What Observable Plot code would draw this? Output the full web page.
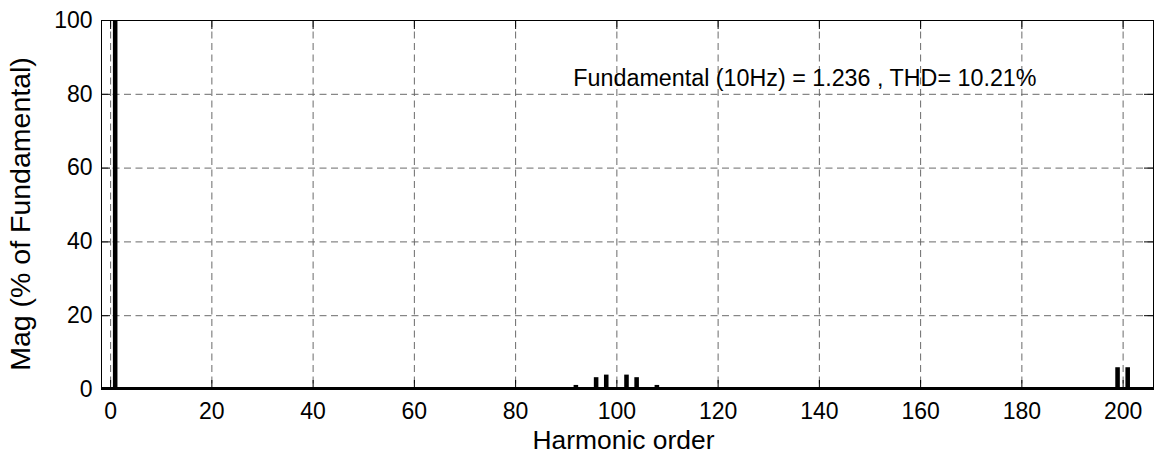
<!DOCTYPE html>
<html>
<head>
<meta charset="utf-8">
<script src="https://cdn.jsdelivr.net/npm/d3@7"></script>
<script src="https://cdn.jsdelivr.net/npm/@observablehq/plot@0.6"></script>
<style>
  html, body { margin: 0; padding: 0; background: #fff; }
  #chart svg { display: block; }
</style>
</head>
<body>
<div id="chart"></div>
<script>
// Harmonic orders and magnitudes (% of fundamental)
const harmonics = [1, 92, 96, 98, 102, 104, 108, 199, 201];
const magnitudes = [100, 1.1, 3.2, 3.9, 3.9, 3.2, 1.1, 5.9, 5.9];
const xTicks = [0, 20, 40, 60, 80, 100, 120, 140, 160, 180, 200];
const yTicks = [0, 20, 40, 60, 80, 100];
const xLabel = "Harmonic order";
const yLabel = "Mag (% of Fundamental)";
const annotation = ["Fundamental (10Hz) = 1.236 , THD= 10.21%"];
const annotationPos = {x: 91.4, y: 82.3};

const bars = harmonics.map((h, i) => ({h, mag: magnitudes[i]}));
const halfWidth = 0.45;
const font = "'Liberation Sans', Arial, Helvetica, sans-serif";
const W = 1160, H = 457;
const mTop = 20, mBottom = 68, mLeft = 101, mRight = 7;
const innerH = H - mTop - mBottom;
const innerW = W - mLeft - mRight;
const tickLen = 9;
const grid = {stroke: "#6a6a6a", strokeWidth: 1, strokeDasharray: "7,4.5"};

const chart = Plot.plot({
  width: W,
  height: H,
  marginTop: mTop,
  marginBottom: mBottom,
  marginLeft: mLeft,
  marginRight: mRight,
  style: {fontFamily: font, fontSize: "23px", color: "#000", background: "#fff"},
  x: {domain: [-1.8, 206], ticks: xTicks, tickSize: 0, tickPadding: 13, label: null, tickFormat: d => String(d)},
  y: {domain: [0, 100], ticks: yTicks, tickSize: 0, tickPadding: 9, label: null, tickFormat: d => String(d)},
  marks: [
    Plot.ruleX(xTicks, {x: d => d, ...grid}),
    Plot.ruleY(yTicks, {y: d => d, ...grid}),
    Plot.tickX(xTicks, {x: d => d, stroke: "#000", insetTop: innerH - tickLen}),
    Plot.tickX(xTicks, {x: d => d, stroke: "#000", insetBottom: innerH - tickLen}),
    Plot.tickY(yTicks, {y: d => d, stroke: "#000", insetRight: innerW - tickLen}),
    Plot.tickY(yTicks, {y: d => d, stroke: "#000", insetLeft: innerW - tickLen}),
    Plot.rectY(bars, {x1: d => d.h - halfWidth, x2: d => d.h + halfWidth, y1: 0, y2: "mag", fill: "#000"}),
    Plot.ruleY([0], {stroke: "#000", strokeWidth: 3.2, dy: -1}),
    Plot.frame({stroke: "#000", strokeWidth: 1}),
    Plot.text(annotation, {x: () => annotationPos.x, y: () => annotationPos.y, text: d => d, textAnchor: "start", lineAnchor: "bottom", fontSize: 23.3, fill: "#000"}),
    Plot.text([xLabel], {frameAnchor: "bottom", text: d => d, textAnchor: "middle", lineAnchor: "middle", dx: -4, dy: 51, fontSize: 26.4, fill: "#000"}),
    Plot.text([yLabel], {frameAnchor: "left", text: d => d, rotate: -90, textAnchor: "middle", lineAnchor: "middle", dx: -80.5, dy: 9, fontSize: 28.5, fill: "#000"})
  ]
});
document.getElementById("chart").appendChild(chart);
</script>
</body>
</html>
